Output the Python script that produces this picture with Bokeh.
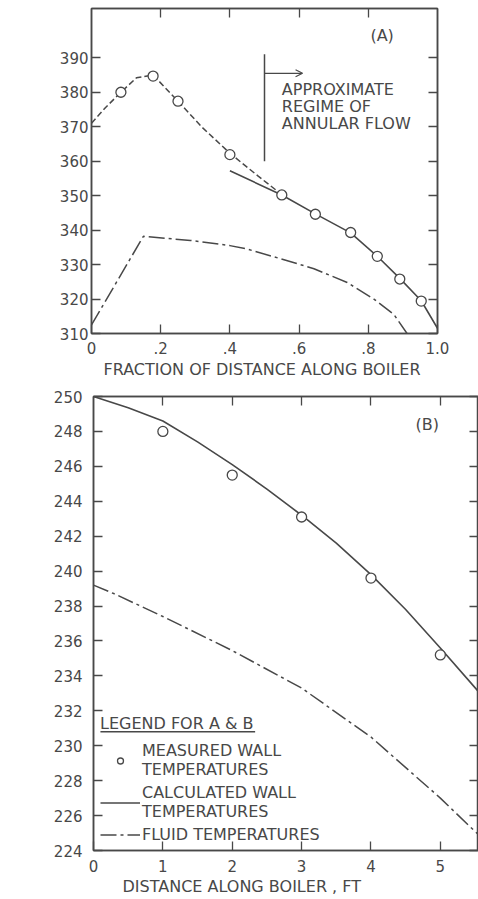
from bokeh.plotting import figure
from bokeh.models import (FixedTicker, LinearAxis, Range1d, Label, Arrow, OpenHead,
                          Legend, LegendItem, Title)
from bokeh.embed import file_html
from bokeh.resources import INLINE

FONT = "DejaVu Sans"
INK = "#484848"

# ---------------- Panel (A) data ----------------
a_x_ticks = [0, 0.2, 0.4, 0.6, 0.8, 1]
a_x_labels = ["0", ".2", ".4", ".6", ".8", "1.0"]
a_y_ticks = [310, 320, 330, 340, 350, 360, 370, 380, 390]

a_meas_x = [0.085, 0.178, 0.25, 0.40, 0.55, 0.647, 0.749, 0.826, 0.891, 0.953]
a_meas_y = [380.0, 384.7, 377.4, 361.9, 350.2, 344.6, 339.3, 332.4, 325.8, 319.4]

a_wall_dash_x = [0.0, 0.04, 0.085, 0.13, 0.178, 0.25, 0.32, 0.40, 0.48, 0.55]
a_wall_dash_y = [371.0, 375.5, 380.0, 384.2, 385.0, 377.4, 369.8, 362.3, 355.8, 350.3]

a_wall_calc_x = [0.40, 0.55, 0.647, 0.749, 0.826, 0.891, 0.953, 1.0]
a_wall_calc_y = [357.2, 350.2, 344.7, 339.2, 332.4, 326.0, 319.5, 311.5]

a_fluid_x = [0.0, 0.15, 0.286, 0.40, 0.45, 0.546, 0.643, 0.739, 0.816, 0.874, 0.912]
a_fluid_y = [312.5, 338.2, 337.0, 335.5, 334.5, 331.7, 328.8, 324.8, 320.0, 315.5, 310.0]

regime_x = [0.5]
regime_y0 = [360.0]
regime_y1 = [391.0]
regime_arrow_x = [0.5, 0.61]
regime_arrow_y = 385.5

# ---------------- Panel (B) data ----------------
b_x_ticks = [0, 1, 2, 3, 4, 5]
b_y_ticks = [224, 226, 228, 230, 232, 234, 236, 238, 240, 242, 244, 246, 248, 250]

b_meas_x = [1, 2, 3, 4, 5]
b_meas_y = [248.0, 245.5, 243.1, 239.6, 235.2]

b_wall_x = [0, 0.5, 1, 1.5, 2, 2.5, 3, 3.5, 4, 4.5, 5, 5.55]
b_wall_y = [250.0, 249.35, 248.6, 247.4, 246.1, 244.7, 243.2, 241.6, 239.8, 237.8, 235.6, 233.1]

b_fluid_x = [0, 0.3, 1, 2, 3, 4, 5, 5.55]
b_fluid_y = [239.2, 238.7, 237.4, 235.45, 233.3, 230.5, 227.0, 224.9]

# underline beneath the legend heading (decoration)
legend_rule_x = [0.1, 2.33]
legend_rule_y = 230.8

DASH_SHORT = "6 3"
DASH_DOT = "16 4 3 4"


def style_axis(ax, ticks, show_labels, standoff=6, overrides=None):
    ax.ticker = FixedTicker(ticks=ticks)
    ax.minor_tick_line_color = None
    ax.major_tick_in = 9
    ax.major_tick_out = 0
    ax.major_tick_line_color = INK
    ax.major_tick_line_width = 1.3
    ax.axis_line_color = INK
    ax.axis_line_width = 1.5
    ax.major_label_text_font = FONT
    if show_labels:
        ax.major_label_text_color = INK
        ax.major_label_text_font_size = "15px"
        ax.major_label_standoff = standoff
    else:
        ax.major_label_text_color = None
        ax.major_label_text_font_size = "1px"
        ax.major_label_standoff = 0
    if overrides:
        ax.major_label_overrides = overrides


def base_fig(w, h, xr, yr, left, right, top, bottom):
    p = figure(width=w, height=h, x_range=xr, y_range=yr, output_backend="svg",
               toolbar_location=None, min_border_left=left, min_border_right=right,
               min_border_top=top, min_border_bottom=bottom)
    p.grid.visible = False
    p.outline_line_color = INK
    p.outline_line_width = 1.5
    p.background_fill_color = "white"
    p.border_fill_color = "white"
    return p


# ---------------- Figure A ----------------
pA = base_fig(478, 385, Range1d(0, 1.0), Range1d(310, 404.3), 91, 41, 8, 52)
style_axis(pA.xaxis[0], a_x_ticks, True, 8, dict(zip(a_x_ticks, a_x_labels)))
style_axis(pA.yaxis[0], a_y_ticks, True, 3)
topA = LinearAxis()
style_axis(topA, a_x_ticks[1:-1], False)
pA.add_layout(topA, "above")
rightA = LinearAxis()
style_axis(rightA, a_y_ticks, False)
pA.add_layout(rightA, "right")

pA.line(a_wall_dash_x, a_wall_dash_y, line_color=INK, line_width=1.5, line_dash=DASH_SHORT)
pA.line(a_wall_calc_x, a_wall_calc_y, line_color=INK, line_width=1.6)
pA.line(a_fluid_x, a_fluid_y, line_color=INK, line_width=1.5, line_dash=DASH_DOT)
pA.scatter(a_meas_x, a_meas_y, size=10, marker="circle", fill_color="white",
           line_color=INK, line_width=1.3)

pA.segment(x0=regime_x, y0=regime_y0, x1=regime_x, y1=regime_y1, line_color=INK, line_width=1.5)
pA.add_layout(Arrow(end=OpenHead(size=7, line_color=INK, line_width=1.2),
                    x_start=regime_arrow_x[0], y_start=regime_arrow_y,
                    x_end=regime_arrow_x[1], y_end=regime_arrow_y,
                    line_color=INK, line_width=1.2))
pA.add_layout(Label(x=0.55, y=383.6, text="APPROXIMATE\nREGIME OF\nANNULAR FLOW",
                    text_font=FONT, text_font_size="16px", text_color=INK,
                    text_baseline="top", text_align="left", text_line_height=0.9))
pA.add_layout(Label(x=0.84, y=396.5, text="(A)", text_font=FONT, text_font_size="16px",
                    text_color=INK, text_align="center", text_baseline="middle"))
pA.add_layout(Label(x=-0.2, y=353.5, text="°F", text_font=FONT, text_font_size="15px",
                    text_color=INK, text_align="center", text_baseline="middle"))
pA.add_layout(Title(text="FRACTION OF DISTANCE ALONG BOILER", align="left", offset=12,
                    text_font=FONT, text_font_size="16px", text_font_style="normal",
                    text_color=INK, standoff=2), "below")

# ---------------- Figure B ----------------
pB = base_fig(478, 514, Range1d(0, 5.55), Range1d(224, 250), 93, 0, 11, 49)
style_axis(pB.xaxis[0], b_x_ticks, True, 9)
style_axis(pB.yaxis[0], b_y_ticks, True, 11)
topB = LinearAxis()
style_axis(topB, b_x_ticks[1:], False)
pB.add_layout(topB, "above")
rightB = LinearAxis()
style_axis(rightB, b_y_ticks, False)
pB.add_layout(rightB, "right")

b_wall_r = pB.line(b_wall_x, b_wall_y, line_color=INK, line_width=1.6)
b_fluid_r = pB.line(b_fluid_x, b_fluid_y, line_color=INK, line_width=1.5, line_dash=DASH_DOT)
b_meas_r = pB.scatter(b_meas_x, b_meas_y, size=10, marker="circle", fill_color="white",
                      line_color=INK, line_width=1.3)

pB.add_layout(Label(x=4.81, y=248.4, text="(B)", text_font=FONT, text_font_size="16px",
                    text_color=INK, text_align="center", text_baseline="middle"))
pB.add_layout(Label(x=-0.985, y=238.1, text="°F", text_font=FONT, text_font_size="15px",
                    text_color=INK, text_align="center", text_baseline="middle"))
pB.add_layout(Title(text="DISTANCE ALONG BOILER , FT", align="left", offset=29,
                    text_font=FONT, text_font_size="16px", text_font_style="normal",
                    text_color=INK, standoff=0), "below")

legend = Legend(items=[
    LegendItem(label="MEASURED WALL\nTEMPERATURES", renderers=[b_meas_r]),
    LegendItem(label="CALCULATED WALL\nTEMPERATURES", renderers=[b_wall_r]),
    LegendItem(label="FLUID TEMPERATURES", renderers=[b_fluid_r]),
], title="LEGEND FOR A & B", location=(7, 6))
legend.border_line_color = None
legend.background_fill_alpha = 0
legend.label_text_font = FONT
legend.label_text_font_size = "16px"
legend.label_text_line_height = 0.75
legend.label_text_color = INK
legend.title_text_font = FONT
legend.title_text_font_size = "16px"
legend.title_text_font_style = "normal"
legend.title_text_color = INK
legend.glyph_width = 40
legend.glyph_height = 15
legend.label_standoff = 2
legend.spacing = 4
legend.padding = 4
legend.margin = 0
legend.title_standoff = 8
pB.add_layout(legend)

pB.segment(x0=[legend_rule_x[0]], y0=[legend_rule_y], x1=[legend_rule_x[1]], y1=[legend_rule_y],
           line_color=INK, line_width=1.3)

open("out.html", "w").write(file_html([pA, pB], INLINE))
